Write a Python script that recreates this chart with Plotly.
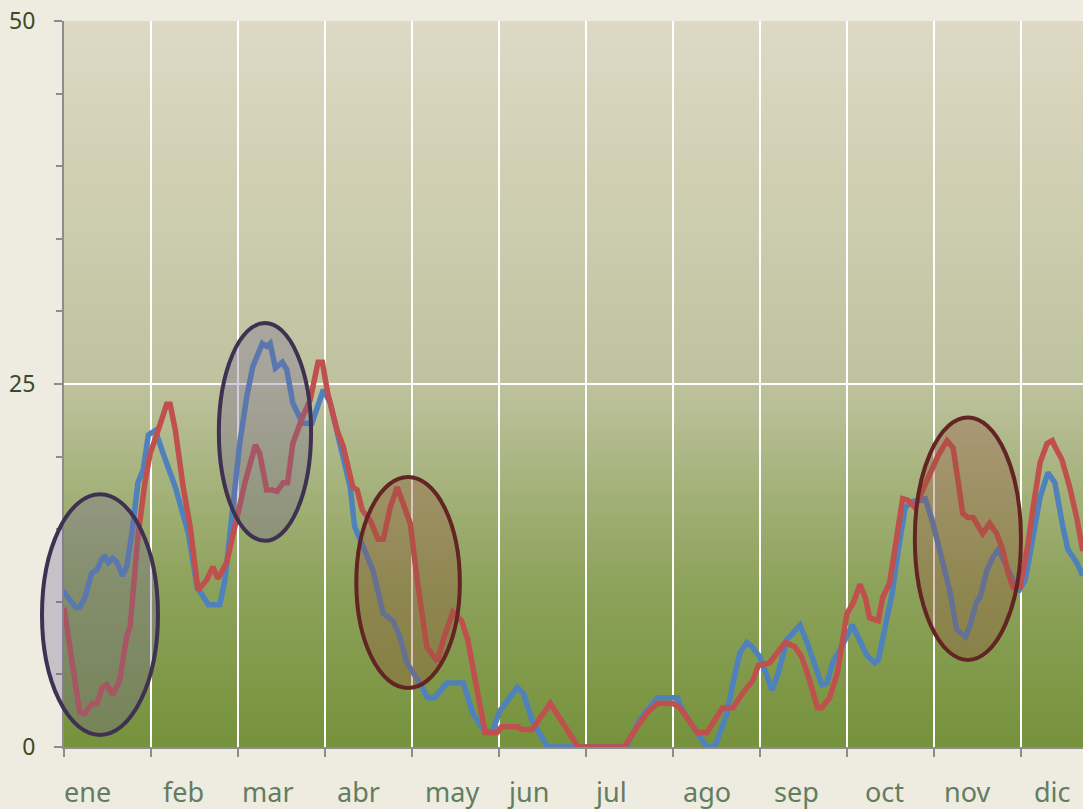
import plotly.graph_objects as go

# Datos (x en meses desde el 1 de enero, y en unidades del eje)
meses = ["ene", "feb", "mar", "abr", "may", "jun", "jul", "ago", "sep", "oct", "nov", "dic"]

x_azul = [0.00, 0.01, 0.07, 0.14, 0.18, 0.24, 0.32, 0.38, 0.44, 0.47, 0.51, 0.56, 0.61, 0.67, 0.72,
          0.78, 0.85, 0.91, 0.97, 1.05, 1.14, 1.28, 1.43, 1.53, 1.66, 1.79, 1.85, 1.94, 2.02, 2.10,
          2.17, 2.28, 2.33, 2.37, 2.43, 2.51, 2.56, 2.63, 2.74, 2.85, 2.98, 3.06, 3.15, 3.29, 3.34,
          3.44, 3.55, 3.67, 3.78, 3.86, 3.94, 4.09, 4.18, 4.26, 4.40, 4.59, 4.70, 4.82, 4.92, 5.01,
          5.21, 5.28, 5.39, 5.56, 6.46, 6.62, 6.74, 6.82, 7.05, 7.11, 7.31, 7.39, 7.48, 7.62, 7.69,
          7.77, 7.85, 7.91, 8.00, 8.14, 8.21, 8.31, 8.46, 8.54, 8.71, 8.77, 8.84, 8.94, 9.06, 9.17,
          9.23, 9.32, 9.36, 9.44, 9.52, 9.59, 9.67, 9.75, 9.82, 9.90, 9.98, 10.05, 10.13, 10.18,
          10.26, 10.36, 10.41, 10.49, 10.53, 10.61, 10.68, 10.74, 10.84, 10.91, 10.97, 11.05,
          11.13, 11.22, 11.31, 11.39, 11.48, 11.54, 11.64, 11.71]
y_azul = [10.8, 10.6, 10.1, 9.6, 9.6, 10.3, 12.0, 12.2, 13.0, 13.1, 12.7, 13.0, 12.7, 11.8, 12.4,
          14.7, 18.2, 19.1, 21.5, 21.8, 20.2, 17.9, 14.7, 11.0, 9.8, 9.8, 11.5, 16.1, 20.9, 24.1,
          26.2, 27.8, 27.6, 27.8, 26.1, 26.5, 26.0, 23.7, 22.3, 22.3, 24.6, 23.7, 21.4, 17.9, 15.2,
          13.8, 12.2, 9.2, 8.7, 7.6, 5.8, 4.4, 3.4, 3.4, 4.4, 4.4, 2.3, 1.2, 1.0, 2.5,
          4.1, 3.7, 1.7, 0.0, 0.0, 1.9, 2.8, 3.4, 3.4, 2.5, 0.7, 0.0, 0.0, 2.3, 4.4,
          6.5, 7.2, 6.9, 6.2, 3.9, 5.1, 7.4, 8.4, 7.2, 4.3, 4.4, 5.9, 6.9, 8.4, 6.9,
          6.3, 5.8, 6.0, 8.3, 10.6, 13.6, 16.5, 16.9, 17.0, 17.1, 15.6, 13.8, 11.7, 10.8,
          8.1, 7.6, 8.3, 10.0, 10.3, 12.2, 13.1, 13.6, 12.4, 11.4, 10.7, 11.5,
          14.3, 17.2, 18.9, 18.2, 15.2, 13.6, 12.7, 11.8]

x_rojo = [0.00, 0.10, 0.18, 0.24, 0.32, 0.38, 0.44, 0.49, 0.56, 0.64, 0.72, 0.76, 0.85, 0.93, 0.99,
          1.07, 1.18, 1.22, 1.28, 1.37, 1.45, 1.54, 1.64, 1.71, 1.77, 1.87, 1.99, 2.08, 2.20, 2.25,
          2.33, 2.39, 2.45, 2.52, 2.57, 2.63, 2.74, 2.83, 2.92, 2.97, 3.03, 3.14, 3.21, 3.32, 3.37,
          3.43, 3.52, 3.61, 3.67, 3.75, 3.83, 3.92, 3.98, 4.06, 4.17, 4.29, 4.36, 4.47, 4.57, 4.64,
          4.75, 4.84, 4.98, 5.03, 5.21, 5.26, 5.38, 5.59, 5.91, 6.44, 6.59, 6.71, 6.82, 7.00, 7.08,
          7.28, 7.39, 7.57, 7.69, 7.80, 7.92, 7.98, 8.11, 8.29, 8.40, 8.48, 8.57, 8.66, 8.71, 8.80,
          8.89, 9.00, 9.07, 9.15, 9.21, 9.26, 9.36, 9.41, 9.49, 9.57, 9.64, 9.70, 9.78, 9.87, 9.98,
          10.05, 10.15, 10.22, 10.28, 10.33, 10.39, 10.45, 10.56, 10.64, 10.72, 10.79, 10.85,
          10.91, 10.99, 11.07, 11.14, 11.22, 11.30, 11.36, 11.39, 11.47, 11.56, 11.64, 11.71]
y_rojo = [9.6, 5.3, 2.4, 2.3, 3.0, 3.0, 4.1, 4.3, 3.6, 4.6, 7.6, 8.3, 14.5, 18.2, 20.2,
          21.6, 23.6, 23.6, 21.8, 17.9, 15.2, 10.8, 11.5, 12.4, 11.6, 12.7, 16.1, 18.2, 20.8, 20.2,
          17.7, 17.7, 17.6, 18.2, 18.2, 20.9, 22.7, 23.9, 26.5, 26.5, 24.4, 21.8, 20.7, 17.9, 17.7,
          16.3, 15.6, 14.3, 14.3, 16.5, 17.9, 16.5, 15.4, 11.5, 6.9, 5.9, 7.4, 9.3, 8.7, 7.4,
          3.7, 1.0, 1.0, 1.4, 1.4, 1.2, 1.2, 3.0, 0.0, 0.0, 1.4, 2.4, 3.0, 3.0, 2.7,
          1.0, 1.0, 2.7, 2.7, 3.7, 4.6, 5.6, 5.8, 7.2, 6.9, 6.2, 4.6, 2.7, 2.7, 3.4,
          5.1, 9.2, 9.9, 11.2, 10.3, 8.9, 8.7, 10.3, 11.3, 14.3, 17.1, 17.0, 16.5, 17.7, 19.3,
          20.1, 21.1, 20.6, 18.2, 16.1, 15.8, 15.8, 14.7, 15.4, 14.7, 13.6, 12.0,
          11.0, 11.0, 13.6, 16.5, 19.6, 20.9, 21.1, 20.7, 19.8, 17.9, 15.8, 13.5]

# rango visible del eje x (el grafico original esta cortado a la derecha)
XMAX = 11.713
YMAX = 50

fig = go.Figure()
fig.add_trace(go.Scatter(x=x_azul, y=y_azul, mode='lines', name='azul',
                         line=dict(color='#4F81BD', width=5.5), hoverinfo='skip'))
fig.add_trace(go.Scatter(x=x_rojo, y=y_rojo, mode='lines', name='rojo',
                         line=dict(color='#C0504D', width=5.5), hoverinfo='skip'))

# fondo degradado del area de trazado (tiras finas)
paradas = [(0.0, (118, 146, 60)), (0.22, (140, 162, 90)), (0.5, (190, 194, 158)), (1.0, (222, 217, 196))]


def color_en(f):
    for (f0, c0), (f1, c1) in zip(paradas[:-1], paradas[1:]):
        if f0 <= f <= f1:
            t = (f - f0) / (f1 - f0)
            return 'rgb(%d,%d,%d)' % tuple(round(a + (b - a) * t) for a, b in zip(c0, c1))
    return 'rgb(%d,%d,%d)' % paradas[-1][1]


n = 242
formas = []
for i in range(n):
    formas.append(dict(type='rect', xref='x domain', yref='y domain', layer='below',
                       x0=0, x1=1, y0=i / n, y1=min(1, (i + 1.5) / n),
                       fillcolor=color_en((i + 0.5) / n), line=dict(width=0)))

# elipses (limites en unidades de datos)
elipses = [
    (-0.253, 1.080, 0.83, 17.4, '#3F3151', 'rgba(115,98,145,0.32)'),
    (1.78, 2.84, 14.2, 29.2, '#3F3151', 'rgba(115,98,145,0.32)'),
    (3.36, 4.55, 4.06, 18.6, '#632523', 'rgba(150,80,60,0.33)'),
    (9.78, 11.0, 6.0, 22.7, '#632523', 'rgba(150,80,60,0.33)'),
]
for x0, x1, y0, y1, borde, relleno in elipses:
    formas.append(dict(type='circle', xref='paper', yref='paper', layer='above',
                       x0=x0 / XMAX, x1=x1 / XMAX, y0=y0 / YMAX, y1=y1 / YMAX,
                       fillcolor=relleno, line=dict(color=borde, width=4)))

# etiquetas de meses (Excel las coloca desplazadas respecto a las marcas)
pos_etiquetas = [0.27, 1.37, 2.34, 3.39, 4.46, 5.33, 6.28, 7.39, 8.42, 9.43, 10.38, 11.36]
notas = [dict(x=p, y=-45 / 726, xref='x', yref='paper', text=m, showarrow=False,
              yanchor='middle', xanchor='center',
              font=dict(family='Noto Sans', size=27, color='#627D60'))
         for p, m in zip(pos_etiquetas, meses)]

fig.update_layout(
    width=1083, height=809,
    margin=dict(l=64, r=0, t=21, b=62),
    paper_bgcolor='#EEECE1',
    plot_bgcolor='#EEECE1',
    showlegend=False,
    shapes=formas,
    annotations=notas,
    xaxis=dict(range=[0, XMAX], tickvals=list(range(12)), showticklabels=False,
               showgrid=True, gridcolor='white', gridwidth=2, zeroline=False,
               showline=True, linecolor='#8C8C8C', linewidth=2,
               ticks='outside', ticklen=8, tickwidth=2, tickcolor='#8C8C8C'),
    yaxis=dict(range=[0, YMAX], tickvals=[0, 25, 50], showgrid=True, gridcolor='white',
               gridwidth=2, zeroline=False, showline=True, linecolor='#8C8C8C', linewidth=2,
               ticks='outside', ticklen=8, tickwidth=2, tickcolor='#8C8C8C',
               ticklabelstandoff=14,
               tickfont=dict(family='Noto Sans', size=23, color='#3C4A28'),
               minor=dict(dtick=5, ticks='outside', ticklen=6, tickwidth=2,
                          tickcolor='#8C8C8C', showgrid=False)),
)

# sin margen del navegador alrededor de la figura
fig.write_html("out.html", config={'displayModeBar': False},
               post_script="document.body.style.margin='0';document.body.style.background='#EEECE1';")
